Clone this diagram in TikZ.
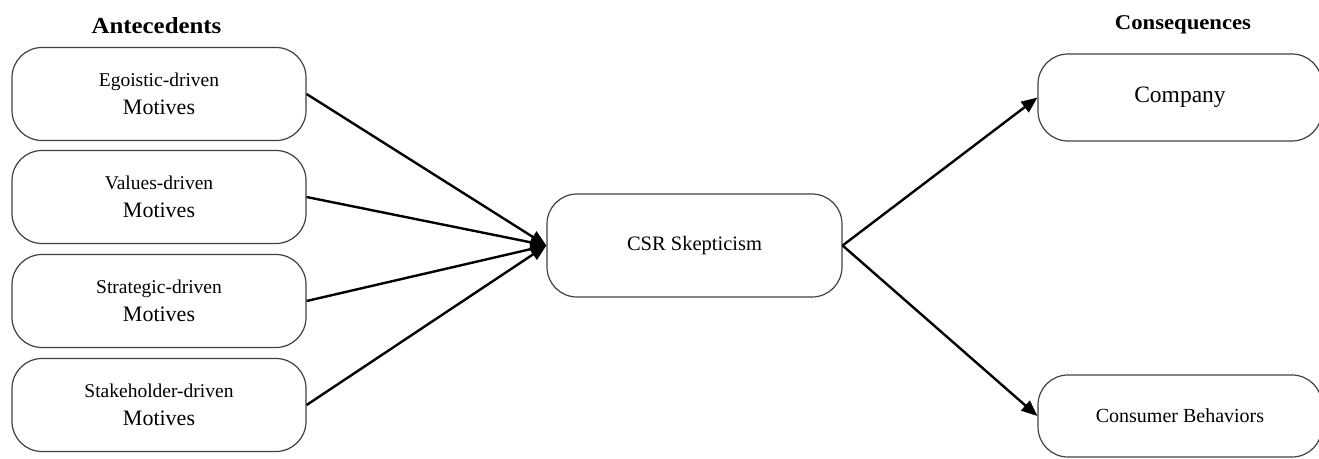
\documentclass[tikz,border=0pt]{standalone}
\usepackage{fontspec}
\setmainfont{Liberation Serif}
\newfontfamily\headfont[FakeStretch=1.08]{Liberation Serif}
\usetikzlibrary{arrows.meta}
\newcommand\motfont{\fontsize{22}{28}\selectfont}
\tikzset{
  motive/.style = {draw = black!75, line width = 1.2pt, rounded corners = 30pt, minimum width = 294pt, minimum height = 93pt, align = center, font = \fontsize{19.5}{28}\selectfont},
  outcome/.style = {motive, minimum width = 284pt, font = \fontsize{21}{26}\selectfont},
  heading/.style = {font = \headfont\bfseries\fontsize{21}{24}\selectfont},
  link/.style = {line width = 2.4pt, -{Triangle[length = 16pt, width = 13pt]}}
}
\begin{document}
\begin{tikzpicture}[x = 1pt, y = -1pt]
\useasboundingbox (0,0) rectangle (1319,458);
\node[heading, font = \headfont\bfseries\fontsize{23}{24}\selectfont] (ante) at (156.5,26) {Antecedents};
\node[heading] (cons) at (1183,25) {Consequences};
\foreach \n/\y/\t in {1/94/Egoistic-driven, 2/197/Values-driven, 3/301/Strategic-driven, 4/405/Stakeholder-driven}
  \node[motive] (m\n) at (159,\y) {\t\\{\motfont Motives}};
\node[motive, minimum width = 295pt, minimum height = 103pt, font = \fontsize{20.5}{26}\selectfont] (csr) at (694.5,245.5) {CSR Skepticism};
\node[outcome, minimum height = 87pt, font = \fontsize{23.5}{26}\selectfont] (comp) at (1180,97.5) {Company};
\node[outcome, minimum height = 82pt, font = \fontsize{20}{26}\selectfont] (beh) at (1180,416) {Consumer Behaviors};
\foreach \n in {1,...,4} \draw[link] (m\n.east) -- (csr.west);
\draw[link] (csr.east) -- (comp.west);
\draw[link] (csr.east) -- (beh.west);
\end{tikzpicture}
\end{document}
